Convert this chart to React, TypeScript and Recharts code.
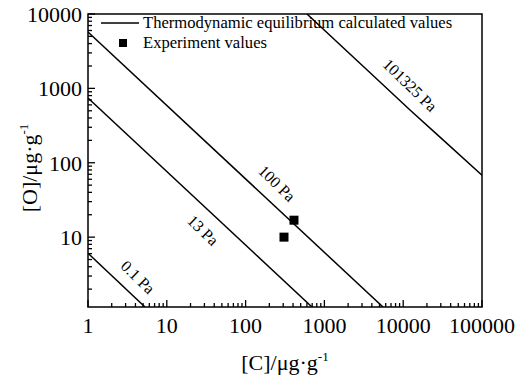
import React from 'react';
import { ComposedChart, Line, Scatter, XAxis, YAxis, ReferenceArea, ReferenceDot } from 'recharts';

const xTicks = [1,2,3,4,5,6,7,8,9,10,20,30,40,50,60,70,80,90,100,200,300,400,500,600,700,800,900,1000,2000,3000,4000,5000,6000,7000,8000,9000,10000,20000,30000,40000,50000,60000,70000,80000,90000,100000];
const yTicks = [2,3,4,5,6,7,8,9,10,20,30,40,50,60,70,80,90,100,200,300,400,500,600,700,800,900,1000,2000,3000,4000,5000,6000,7000,8000,9000,10000];
const majorTicks = [1,10,100,1000,10000,100000];

const line01 = [{ x: 1, y: 6.07 }, { x: 5.29, y: 1.15 }];
const line13 = [{ x: 1, y: 741 }, { x: 696, y: 1.15 }];
const line100 = [{ x: 1, y: 5720 }, { x: 5540, y: 1.15 }];
const line101325 = [
  { x: 601, y: 10000 },
  { x: 5080, y: 1216 },
  { x: 12200, y: 511 },
  { x: 29300, y: 221 },
  { x: 100000, y: 68 },
];
const experiment = [{ x: 411, y: 16.9 }, { x: 307, y: 10 }];

const lineLabels = [
  { x: 4.3, y: 2.9, text: '0.1 Pa' },
  { x: 28.8, y: 12.4, text: '13 Pa' },
  { x: 250, y: 53, text: '100 Pa' },
  { x: 12200, y: 1107, text: '101325 Pa' },
];

const legendItems = ['Thermodynamic equilibrium calculated values', 'Experiment values'];

const FONT = '"Liberation Serif", "Times New Roman", serif';
const TICK_MARGIN = 10;

const XTick = (props: any) => {
  const { x, y, payload } = props;
  const v = payload.value;
  const major = majorTicks.includes(v);
  const ay = y - TICK_MARGIN;
  return (
    <g>
      <line x1={x} x2={x} y1={ay} y2={ay - (major ? 7 : 4)} stroke="#000" strokeWidth={1.3} />
      {major && (
        <text x={x} y={y} dy="0.71em" textAnchor="middle" style={{ fontFamily: FONT }} fontSize={22} fill="#000">
          {v}
        </text>
      )}
    </g>
  );
};

const YTick = (props: any) => {
  const { x, y, payload } = props;
  const v = payload.value;
  const major = majorTicks.includes(v);
  const ax = x + 6;
  return (
    <g>
      <line x1={ax} x2={ax + (major ? 7 : 4)} y1={y} y2={y} stroke="#000" strokeWidth={1.3} />
      {major && (
        <text x={x} y={y} dy="0.355em" textAnchor="end" style={{ fontFamily: FONT }} fontSize={22} fill="#000">
          {v}
        </text>
      )}
    </g>
  );
};

const YLabel = () => (
  <text transform="translate(37,168) rotate(-90)" textAnchor="middle" style={{ fontFamily: FONT }} fontSize={22} fill="#000">
    [O]/μg·g<tspan dy={-9} fontSize={13}>-1</tspan>
  </text>
);

const XLabel = (props: any) => {
  const vb = props.viewBox;
  return (
    <text x={vb.x + vb.width / 2} y={370} textAnchor="middle" style={{ fontFamily: FONT }} fontSize={22} fill="#000">
      [C]/μg·g<tspan dy={-9} fontSize={13}>-1</tspan>
    </text>
  );
};

const Square = (props: any) => {
  const { cx, cy } = props;
  return <rect x={cx - 4.5} y={cy - 4.5} width={9} height={9} fill="#000" />;
};

export default function App() {
  return (
    <div style={{ position: 'absolute', left: 0, top: 0, width: 527, height: 376 }}>
      <ComposedChart width={527} height={376} margin={{ top: 14, right: 45, bottom: 0, left: 0 }}>
        <XAxis
          type="number"
          dataKey="x"
          scale="log"
          domain={[1, 100000]}
          ticks={xTicks}
          interval={0}
          allowDataOverflow
          tick={<XTick />}
          tickSize={0}
          tickMargin={TICK_MARGIN}
          axisLine={false}
          tickLine={false}
          height={69}
          label={<XLabel />}
        />
        <YAxis
          type="number"
          dataKey="y"
          scale="log"
          domain={[1.15, 10000]}
          ticks={yTicks}
          interval={0}
          allowDataOverflow
          tick={<YTick />}
          tickSize={0}
          tickMargin={6}
          axisLine={false}
          tickLine={false}
          width={88}
          label={<YLabel />}
        />
        <ReferenceArea x1={1} x2={100000} y1={1.15} y2={10000} fill="none" stroke="#000" strokeWidth={1.5} fillOpacity={0} />
        <Line data={line01} dataKey="y" stroke="#000" strokeWidth={1.5} dot={false} isAnimationActive={false} />
        <Line data={line13} dataKey="y" stroke="#000" strokeWidth={1.5} dot={false} isAnimationActive={false} />
        <Line data={line100} dataKey="y" stroke="#000" strokeWidth={1.5} dot={false} isAnimationActive={false} />
        <Line data={line101325} dataKey="y" stroke="#000" strokeWidth={1.5} dot={false} isAnimationActive={false} />
        <Scatter data={experiment} dataKey="y" shape={<Square />} isAnimationActive={false} />
        {lineLabels.map((l) => (
          <ReferenceDot
            key={l.text}
            x={l.x}
            y={l.y}
            r={0}
            shape={(p: any) => (
              <text
                transform={`translate(${p.cx},${p.cy}) rotate(44)`}
                textAnchor="middle"
                dy="0.35em"
                style={{ fontFamily: FONT }}
                fontSize={16}
                fill="#000"
              >
                {l.text}
              </text>
            )}
          />
        ))}
      </ComposedChart>
      <div
        style={{
          position: 'absolute',
          left: 98,
          top: 13,
          fontFamily: FONT,
          fontSize: 16.6,
          color: '#000',
          lineHeight: '20px',
          whiteSpace: 'nowrap',
          pointerEvents: 'none',
        }}
      >
        <div style={{ display: 'flex', alignItems: 'center' }}>
          <svg width={45} height={20}><line x1={3} x2={41} y1={10} y2={10} stroke="#000" strokeWidth={1.5} /></svg>
          <span>{legendItems[0]}</span>
        </div>
        <div style={{ display: 'flex', alignItems: 'center' }}>
          <svg width={45} height={20}><rect x={21} y={6} width={8} height={8} fill="#000" /></svg>
          <span>{legendItems[1]}</span>
        </div>
      </div>
    </div>
  );
}
